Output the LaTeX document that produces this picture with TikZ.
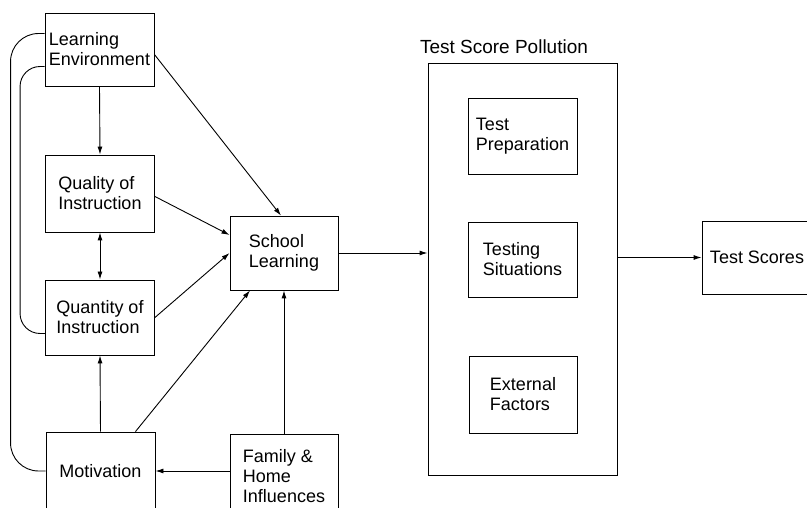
\documentclass[tikz,border=0pt]{standalone}
\usepackage{fontspec}
\setmainfont{Liberation Sans}
\usetikzlibrary{arrows.meta}
\tikzset{
  box/.style={draw,rectangle,align=left,inner sep=2pt,
    minimum width=109,minimum height=75,
    font=\fontsize{18}{20}\selectfont},
  arr/.style={-{Latex[length=8pt,width=5pt]}},
  twoarr/.style={{Latex[length=8pt,width=5pt]}-{Latex[length=8pt,width=5pt]}}
}
\begin{document}
\begin{tikzpicture}[x=1pt,y=1pt,line width=.9pt]
\useasboundingbox (0,0) rectangle (807,507);
% left column
\node[box,minimum height=73] (env) at (99.5,457.5) {Learning\\Environment};
\node[box,minimum height=77] (qual) at (100,313.5) {Quality of\\Instruction};
\node[box] (quant) at (100,189.5) {Quantity of\\Instruction};
\node[box,minimum height=78] (motiv) at (100.5,36) {Motivation};
% middle
\node[box,minimum width=108,minimum height=74] (school) at (284,254) {School\\Learning};
\node[box,minimum width=108,minimum height=84] (family) at (284,31) {Family \&\\Home\\Influences};
% pollution block
\node[draw,rectangle,minimum width=189,minimum height=412] (pollut) at (522.5,238) {};
\node[font=\fontsize{19}{22}\selectfont] (ptitle) at (504,460) {Test Score Pollution};
\node[box,minimum height=76] (prep) at (522.5,371) {Test\\Preparation};
\node[box] (situ) at (522.5,247.5) {Testing\\Situations};
\node[box,minimum width=108,minimum height=77] (extern) at (523,112.5) {External\\Factors};
\node[box,minimum width=110,minimum height=73] (scores) at (757,249.5) {Test Scores};
% arrows
\draw[arr] (env.south) -- (qual.north);
\draw[twoarr] (qual.south) -- (quant.north);
\draw[arr] (motiv.north) -- (quant.south);
\draw[arr] ([yshift=-5]env.east) -- ([xshift=-3]school.north);
\draw[arr] ([yshift=-3]qual.east) -- ([yshift=18]school.west);
\draw[arr] (quant.east) -- (school.west);
\draw[arr] ([xshift=35]motiv.north) -- ([xshift=-34]school.south);
\draw[arr] (family.north) -- (school.south);
\draw[arr] (family.west |- motiv.east) -- (motiv.east);
\draw[arr] (school.east) -- (pollut.west |- school.east);
\draw[arr] (pollut.east |- scores.west) -- (scores.west);
% feedback lines from the environment
\draw[rounded corners=28] ([yshift=16]env.west) -| ([xshift=-35]motiv.west) -- (motiv.west);
\draw[rounded corners=20] ([yshift=-17]env.west) -| ([xshift=-25,yshift=-16]quant.west) -- ([yshift=-16]quant.west);
\end{tikzpicture}
\end{document}
